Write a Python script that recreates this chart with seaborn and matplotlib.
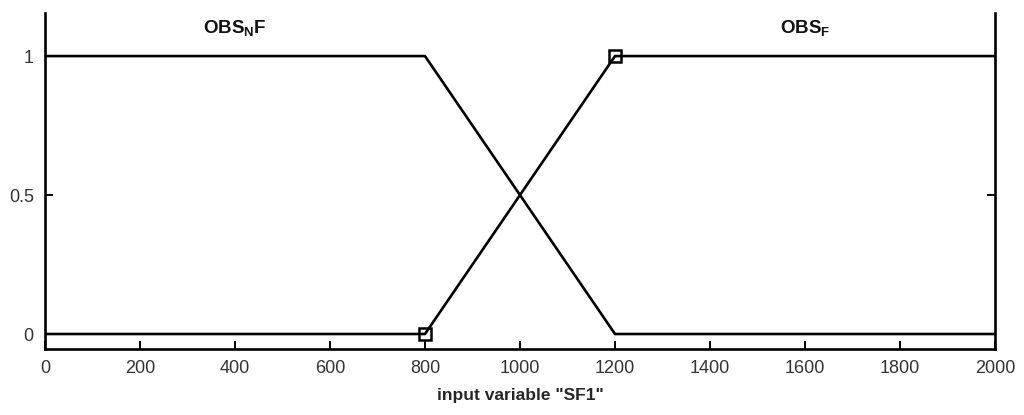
import numpy as np
import pandas as pd
import matplotlib
matplotlib.use("Agg")
import matplotlib.pyplot as plt
import seaborn as sns

# membership functions of input "SF1"
x_nf = [0, 800, 1200, 2000]
mu_nf = [1, 1, 0, 0]
x_f = [0, 800, 1200, 2000]
mu_f = [0, 0, 1, 1]
mf_names = ["$\\mathbf{OBS_{N}F}$", "$\\mathbf{OBS_{F}}$"]
label_x = [400, 1600]
xticks = [0, 200, 400, 600, 800, 1000, 1200, 1400, 1600, 1800, 2000]
yticks = [0, 0.5, 1]

sns.set_style("white")
plt.rcParams['font.family'] = ['Liberation Sans', 'DejaVu Sans']
plt.rcParams['mathtext.fontset'] = 'custom'
plt.rcParams['mathtext.bf'] = 'Liberation Sans:bold'
plt.rcParams['mathtext.rm'] = 'Liberation Sans'

df = pd.concat([
    pd.DataFrame({"x": x_nf, "mu": mu_nf, "mf": "nf"}),
    pd.DataFrame({"x": x_f, "mu": mu_f, "mf": "f"}),
])

fig = plt.figure(figsize=(10.24, 4.15), dpi=100)
ax = fig.add_axes([0.0439, 0.159, 0.9278, 0.8097])

sns.lineplot(data=df, x="x", y="mu", units="mf", estimator=None, sort=False,
             color="black", linewidth=1.9, ax=ax)
# selected MF breakpoints
ax.plot(x_f[1:3], mu_f[1:3], linestyle="none", marker="s", markersize=8,
        markerfacecolor="none", markeredgecolor="black", markeredgewidth=1.8)

for name, lx in zip(mf_names, label_x):
    ax.text(lx, 1.1, name, ha="center", va="center", fontsize=13.5, color="#111111")

ax.set_xlim(0, 2000)
ax.set_ylim(-0.054, 1.155)
ax.set_xticks(xticks)
ax.set_yticks(yticks)
ax.set_yticklabels(["0", "0.5", "1"])
ax.tick_params(direction="in", length=6, width=1.4, labelsize=13, colors="black",
               right=True, left=True, bottom=True, top=False, pad=8)
ax.tick_params(axis="y", labelcolor="#333333")
ax.tick_params(axis="x", labelcolor="#333333")
ax.set_xlabel('input variable "SF1"', fontsize=12.5, fontweight="bold", labelpad=8)
ax.set_ylabel("")

for s in ["left", "right", "bottom"]:
    ax.spines[s].set_visible(True)
    ax.spines[s].set_color("black")
    ax.spines[s].set_linewidth(1.9)
ax.spines["top"].set_visible(False)

fig.savefig("out.png", dpi=100)
